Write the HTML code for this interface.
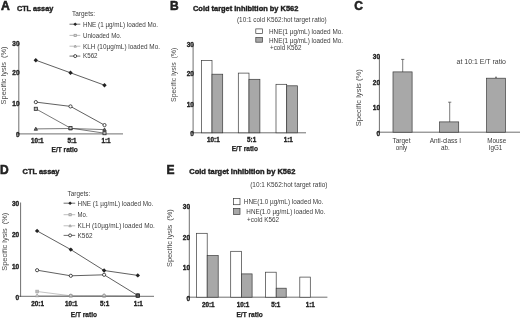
<!DOCTYPE html>
<html><head><meta charset="utf-8"><title>Figure</title>
<style>
html,body{margin:0;padding:0;background:#fff;}
body{width:520px;height:319px;overflow:hidden;}
svg{display:block;font-family:"Liberation Sans",sans-serif;filter:blur(0.3px);}
</style></head><body>
<svg width="520" height="319" viewBox="0 0 520 319">
<rect x="0" y="0" width="520" height="319" fill="#fff"/>
<g>
<text x="0.9" y="10.3" font-size="12.2" font-weight="bold" stroke="#222" stroke-width="0.55" fill="#222" >A</text>
<text x="16.9" y="10.9" font-size="7.5" font-weight="bold" stroke="#222" stroke-width="0.4" textLength="36.4" lengthAdjust="spacingAndGlyphs" fill="#222" >CTL assay</text>
<text x="72" y="16.3" font-size="6.3" textLength="23" lengthAdjust="spacingAndGlyphs" fill="#3c3c3c" >Targets:</text>
<line x1="69.5" y1="24.2" x2="80.3" y2="24.2" stroke="#222" stroke-width="0.65"/>
<polygon points="73.4,24.2 75.2,22.4 77.0,24.2 75.2,26.0" fill="#222"/>
<text x="83" y="26.5" font-size="6.3" textLength="75" lengthAdjust="spacingAndGlyphs" fill="#3c3c3c" >HNE (1 µg/mL) loaded Mo.</text>
<line x1="69.5" y1="35.4" x2="80.3" y2="35.4" stroke="#9a9a9a" stroke-width="0.65"/>
<rect x="74.10000000000001" y="34.3" width="2.2" height="2.2" fill="#ddd" stroke="#9a9a9a" stroke-width="0.8"/>
<text x="83" y="37.699999999999996" font-size="6.3" textLength="38.5" lengthAdjust="spacingAndGlyphs" fill="#3c3c3c" >Unloaded Mo.</text>
<line x1="69.5" y1="46.2" x2="80.3" y2="46.2" stroke="#9a9a9a" stroke-width="0.65"/>
<polygon points="74.0,47.160000000000004 76.4,47.160000000000004 75.2,45.0" fill="#ddd" stroke="#9a9a9a" stroke-width="0.8"/>
<text x="83" y="48.5" font-size="6.3" textLength="77" lengthAdjust="spacingAndGlyphs" fill="#3c3c3c" >KLH (10µg/mL) loaded Mo.</text>
<line x1="69.5" y1="56.1" x2="80.3" y2="56.1" stroke="#222" stroke-width="0.65"/>
<circle cx="75.2" cy="56.1" r="1.5" fill="#fff" stroke="#222" stroke-width="0.8"/>
<text x="83" y="58.4" font-size="6.3" textLength="14.6" lengthAdjust="spacingAndGlyphs" fill="#3c3c3c" >K562</text>
<line x1="18.8" y1="43" x2="18.8" y2="134.3" stroke="#222" stroke-width="0.65"/>
<line x1="17.3" y1="133.9" x2="123" y2="133.9" stroke="#222" stroke-width="0.65"/>
<text x="19.6" y="46.0" font-size="6.5" font-weight="bold" stroke="#222" stroke-width="0.35" text-anchor="end" fill="#222" >30</text>
<text x="19.6" y="75.3" font-size="6.5" font-weight="bold" stroke="#222" stroke-width="0.35" text-anchor="end" fill="#222" >20</text>
<text x="19.6" y="106.1" font-size="6.5" font-weight="bold" stroke="#222" stroke-width="0.35" text-anchor="end" fill="#222" >10</text>
<text x="19.6" y="136.70000000000002" font-size="6.5" font-weight="bold" stroke="#222" stroke-width="0.35" text-anchor="end" fill="#222" >0</text>
<text x="6.0" y="75.4" font-size="6.5" text-anchor="middle" textLength="58" lengthAdjust="spacingAndGlyphs" transform="rotate(-90 6.0 75.4)" fill="#4a4a4a" xml:space="preserve">Specific lysis  (%)</text>
<text x="37.3" y="142.9" font-size="6.3" font-weight="bold" stroke="#222" stroke-width="0.35" text-anchor="middle" fill="#222" >10:1</text>
<text x="72.0" y="142.9" font-size="6.3" font-weight="bold" stroke="#222" stroke-width="0.35" text-anchor="middle" fill="#222" >5:1</text>
<text x="106.0" y="142.9" font-size="6.3" font-weight="bold" stroke="#222" stroke-width="0.35" text-anchor="middle" fill="#222" >1:1</text>
<text x="64.7" y="151.9" font-size="6.6" font-weight="bold" stroke="#222" stroke-width="0.25" text-anchor="middle" textLength="26.3" lengthAdjust="spacingAndGlyphs" fill="#222" >E/T ratio</text>
<polyline points="35.8,60.2 70.5,72.8 104.5,85.2" fill="none" stroke="#222" stroke-width="0.72"/>
<polygon points="33.599999999999994,60.2 35.8,58.0 38.0,60.2 35.8,62.400000000000006" fill="#222"/>
<polygon points="68.3,72.8 70.5,70.6 72.7,72.8 70.5,75.0" fill="#222"/>
<polygon points="102.3,85.2 104.5,83.0 106.7,85.2 104.5,87.4" fill="#222"/>
<polyline points="35.8,128.9 70.5,128.5 104.5,129.6" fill="none" stroke="#444" stroke-width="0.72"/>
<polyline points="35.8,108.8 70.5,128.1 104.5,133.2" fill="none" stroke="#444" stroke-width="0.72"/>
<polyline points="35.8,102.1 70.5,106.4 104.5,125.1" fill="none" stroke="#222" stroke-width="0.72"/>
<polygon points="34.099999999999994,130.26000000000002 37.5,130.26000000000002 35.8,127.2" fill="#666" stroke="#333" stroke-width="0.8"/>
<polygon points="68.8,129.86 72.2,129.86 70.5,126.8" fill="#666" stroke="#333" stroke-width="0.8"/>
<polygon points="102.8,130.96 106.2,130.96 104.5,127.89999999999999" fill="#666" stroke="#333" stroke-width="0.8"/>
<rect x="34.25" y="107.25" width="3.1" height="3.1" fill="#bbb" stroke="#2a2a2a" stroke-width="0.8"/>
<rect x="68.95" y="126.55" width="3.1" height="3.1" fill="#bbb" stroke="#2a2a2a" stroke-width="0.8"/>
<rect x="102.95" y="131.64999999999998" width="3.1" height="3.1" fill="#bbb" stroke="#2a2a2a" stroke-width="0.8"/>
<circle cx="35.8" cy="102.1" r="1.6" fill="#fff" stroke="#222" stroke-width="0.8"/>
<circle cx="70.5" cy="106.4" r="1.6" fill="#fff" stroke="#222" stroke-width="0.8"/>
<circle cx="104.5" cy="125.1" r="1.6" fill="#fff" stroke="#222" stroke-width="0.8"/>
<text x="170.0" y="10.3" font-size="12" font-weight="bold" stroke="#222" stroke-width="0.55" fill="#222" >B</text>
<text x="193" y="10.7" font-size="7.6" font-weight="bold" stroke="#222" stroke-width="0.4" textLength="105.3" lengthAdjust="spacingAndGlyphs" fill="#222" >Cold target inhibition by K562</text>
<text x="237" y="22.2" font-size="6.3" textLength="89.6" lengthAdjust="spacingAndGlyphs" fill="#3c3c3c" >(10:1 cold K562:hot target ratio)</text>
<rect x="255.8" y="28.9" width="6.599999999999966" height="4.5" fill="#fff" stroke="#3a3a3a" stroke-width="0.7"/>
<text x="269" y="33.7" font-size="6.3" textLength="74" lengthAdjust="spacingAndGlyphs" fill="#3c3c3c" >HNE(1 µg/mL) loaded Mo.</text>
<rect x="255.8" y="37.6" width="6.599999999999966" height="4.600000000000001" fill="#a8a8a8" stroke="#3a3a3a" stroke-width="0.7"/>
<text x="269" y="42.5" font-size="6.3" textLength="74" lengthAdjust="spacingAndGlyphs" fill="#3c3c3c" >HNE(1 µg/mL) loaded Mo.</text>
<text x="270" y="49.5" font-size="6.3" textLength="31.5" lengthAdjust="spacingAndGlyphs" fill="#3c3c3c" >+cold K562</text>
<line x1="193.1" y1="44" x2="193.1" y2="133.20000000000002" stroke="#222" stroke-width="0.65"/>
<line x1="191.6" y1="132.8" x2="306" y2="132.8" stroke="#222" stroke-width="0.65"/>
<text x="193.9" y="47.0" font-size="6.5" font-weight="bold" stroke="#222" stroke-width="0.35" text-anchor="end" fill="#222" >30</text>
<text x="193.9" y="75.5" font-size="6.5" font-weight="bold" stroke="#222" stroke-width="0.35" text-anchor="end" fill="#222" >20</text>
<text x="193.9" y="106.8" font-size="6.5" font-weight="bold" stroke="#222" stroke-width="0.35" text-anchor="end" fill="#222" >10</text>
<text x="193.9" y="135.8" font-size="6.5" font-weight="bold" stroke="#222" stroke-width="0.35" text-anchor="end" fill="#222" >0</text>
<text x="175.6" y="74.8" font-size="6.5" text-anchor="middle" textLength="54.3" lengthAdjust="spacingAndGlyphs" transform="rotate(-90 175.6 74.8)" fill="#4a4a4a" xml:space="preserve">Specific lysis  (%)</text>
<rect x="201.4" y="60.6" width="10.599999999999994" height="72.20000000000002" fill="#fff" stroke="#3a3a3a" stroke-width="0.7"/>
<rect x="212.0" y="74.2" width="10.699999999999989" height="58.60000000000001" fill="#a8a8a8" stroke="#3a3a3a" stroke-width="0.7"/>
<rect x="238.3" y="73.1" width="10.699999999999989" height="59.70000000000002" fill="#fff" stroke="#3a3a3a" stroke-width="0.7"/>
<rect x="249.0" y="79.3" width="10.899999999999977" height="53.500000000000014" fill="#a8a8a8" stroke="#3a3a3a" stroke-width="0.7"/>
<rect x="276.0" y="84.3" width="10.699999999999989" height="48.500000000000014" fill="#fff" stroke="#3a3a3a" stroke-width="0.7"/>
<rect x="286.7" y="85.8" width="10.800000000000011" height="47.000000000000014" fill="#a8a8a8" stroke="#3a3a3a" stroke-width="0.7"/>
<text x="213.4" y="141.8" font-size="6.3" font-weight="bold" stroke="#222" stroke-width="0.35" text-anchor="middle" fill="#222" >10:1</text>
<text x="251.6" y="141.8" font-size="6.3" font-weight="bold" stroke="#222" stroke-width="0.35" text-anchor="middle" fill="#222" >5:1</text>
<text x="288.3" y="141.8" font-size="6.3" font-weight="bold" stroke="#222" stroke-width="0.35" text-anchor="middle" fill="#222" >1:1</text>
<text x="244.8" y="150.6" font-size="6.6" font-weight="bold" stroke="#222" stroke-width="0.25" text-anchor="middle" textLength="26.3" lengthAdjust="spacingAndGlyphs" fill="#222" >E/T ratio</text>
<text x="354.3" y="9.8" font-size="12" font-weight="bold" stroke="#222" stroke-width="0.55" fill="#222" >C</text>
<line x1="379.4" y1="56.3" x2="379.4" y2="132.6" stroke="#222" stroke-width="0.65"/>
<line x1="377.9" y1="132.2" x2="520" y2="132.2" stroke="#222" stroke-width="0.65"/>
<text x="380.0" y="59.3" font-size="6.5" font-weight="bold" stroke="#222" stroke-width="0.35" text-anchor="end" fill="#222" >30</text>
<text x="380.0" y="85.0" font-size="6.5" font-weight="bold" stroke="#222" stroke-width="0.35" text-anchor="end" fill="#222" >20</text>
<text x="380.0" y="109.8" font-size="6.5" font-weight="bold" stroke="#222" stroke-width="0.35" text-anchor="end" fill="#222" >10</text>
<text x="380.0" y="135.5" font-size="6.5" font-weight="bold" stroke="#222" stroke-width="0.35" text-anchor="end" fill="#222" >0</text>
<text x="360.7" y="97.8" font-size="6.5" text-anchor="middle" textLength="57" lengthAdjust="spacingAndGlyphs" transform="rotate(-90 360.7 97.8)" fill="#4a4a4a" xml:space="preserve">Specific lysis (%)</text>
<text x="456.5" y="64.4" font-size="6.9" textLength="49.5" lengthAdjust="spacingAndGlyphs" fill="#3c3c3c" >at 10:1 E/T ratio</text>
<line x1="402.7" y1="59.4" x2="402.7" y2="72" stroke="#444" stroke-width="0.7"/>
<line x1="401.09999999999997" y1="59.4" x2="404.3" y2="59.4" stroke="#444" stroke-width="0.7"/>
<rect x="393.0" y="71.9" width="19.100000000000023" height="60.29999999999998" fill="#a8a8a8" stroke="#3a3a3a" stroke-width="0.7"/>
<line x1="449.7" y1="102.2" x2="449.7" y2="122" stroke="#444" stroke-width="0.7"/>
<line x1="448.09999999999997" y1="102.2" x2="451.3" y2="102.2" stroke="#444" stroke-width="0.7"/>
<rect x="439.6" y="121.9" width="19.099999999999966" height="10.299999999999983" fill="#a8a8a8" stroke="#3a3a3a" stroke-width="0.7"/>
<line x1="496" y1="77.2" x2="496" y2="78.5" stroke="#444" stroke-width="0.7"/>
<line x1="495.0" y1="77.2" x2="497.0" y2="77.2" stroke="#444" stroke-width="0.7"/>
<rect x="486.6" y="78.2" width="18.799999999999955" height="53.999999999999986" fill="#a8a8a8" stroke="#3a3a3a" stroke-width="0.7"/>
<text x="401.5" y="142.9" font-size="6.3" text-anchor="middle" textLength="18.2" lengthAdjust="spacingAndGlyphs" fill="#3c3c3c" >Target</text>
<text x="401.5" y="150.0" font-size="6.3" text-anchor="middle" fill="#3c3c3c" >only</text>
<text x="445.4" y="142.9" font-size="6.3" text-anchor="middle" textLength="31.5" lengthAdjust="spacingAndGlyphs" fill="#3c3c3c" >Anti-class I</text>
<text x="445.4" y="150.0" font-size="6.3" text-anchor="middle" fill="#3c3c3c" >ab.</text>
<text x="496.8" y="142.9" font-size="6.3" text-anchor="middle" textLength="19" lengthAdjust="spacingAndGlyphs" fill="#3c3c3c" >Mouse</text>
<text x="495.5" y="150.0" font-size="6.3" text-anchor="middle" fill="#3c3c3c" >IgG1</text>
<text x="0.0" y="174.3" font-size="12" font-weight="bold" stroke="#222" stroke-width="0.55" fill="#222" >D</text>
<text x="22.6" y="173.6" font-size="7.5" font-weight="bold" stroke="#222" stroke-width="0.4" textLength="36.9" lengthAdjust="spacingAndGlyphs" fill="#222" >CTL assay</text>
<text x="67.6" y="196.0" font-size="6.3" textLength="22.6" lengthAdjust="spacingAndGlyphs" fill="#3c3c3c" >Targets:</text>
<line x1="63.6" y1="203.2" x2="75.2" y2="203.2" stroke="#222" stroke-width="0.65"/>
<polygon points="68.3,203.2 70.1,201.39999999999998 71.89999999999999,203.2 70.1,205.0" fill="#222"/>
<text x="77.6" y="205.5" font-size="6.3" textLength="75.8" lengthAdjust="spacingAndGlyphs" fill="#3c3c3c" >HNE (1 µg/mL) loaded Mo.</text>
<line x1="63.6" y1="214.7" x2="75.2" y2="214.7" stroke="#9a9a9a" stroke-width="0.65"/>
<rect x="69.0" y="213.6" width="2.2" height="2.2" fill="#ddd" stroke="#9a9a9a" stroke-width="0.8"/>
<text x="77.6" y="217.0" font-size="6.3" textLength="10" lengthAdjust="spacingAndGlyphs" fill="#3c3c3c" >Mo.</text>
<line x1="63.6" y1="225.8" x2="75.2" y2="225.8" stroke="#9a9a9a" stroke-width="0.65"/>
<polygon points="68.89999999999999,226.76000000000002 71.3,226.76000000000002 70.1,224.60000000000002" fill="#ddd" stroke="#9a9a9a" stroke-width="0.8"/>
<text x="77.6" y="228.10000000000002" font-size="6.3" textLength="77.3" lengthAdjust="spacingAndGlyphs" fill="#3c3c3c" >KLH (10µg/mL) loaded Mo.</text>
<line x1="63.6" y1="235.4" x2="75.2" y2="235.4" stroke="#222" stroke-width="0.65"/>
<circle cx="70.1" cy="235.4" r="1.5" fill="#fff" stroke="#222" stroke-width="0.8"/>
<text x="77.6" y="237.70000000000002" font-size="6.3" textLength="15.0" lengthAdjust="spacingAndGlyphs" fill="#3c3c3c" >K562</text>
<text x="19.200000000000003" y="206.3" font-size="6.5" font-weight="bold" stroke="#222" stroke-width="0.35" text-anchor="end" fill="#222" >30</text>
<text x="19.200000000000003" y="237.0" font-size="6.5" font-weight="bold" stroke="#222" stroke-width="0.35" text-anchor="end" fill="#222" >20</text>
<text x="19.200000000000003" y="268.7" font-size="6.5" font-weight="bold" stroke="#222" stroke-width="0.35" text-anchor="end" fill="#222" >10</text>
<text x="19.200000000000003" y="299.5" font-size="6.5" font-weight="bold" stroke="#222" stroke-width="0.35" text-anchor="end" fill="#222" >0</text>
<text x="6.8" y="241.7" font-size="6.5" text-anchor="middle" textLength="58" lengthAdjust="spacingAndGlyphs" transform="rotate(-90 6.8 241.7)" fill="#4a4a4a" xml:space="preserve">Specific lysis  (%)</text>
<text x="37.6" y="305.8" font-size="6.3" font-weight="bold" stroke="#222" stroke-width="0.35" text-anchor="middle" fill="#222" >20:1</text>
<text x="71.3" y="305.8" font-size="6.3" font-weight="bold" stroke="#222" stroke-width="0.35" text-anchor="middle" fill="#222" >10:1</text>
<text x="104.6" y="305.8" font-size="6.3" font-weight="bold" stroke="#222" stroke-width="0.35" text-anchor="middle" fill="#222" >5:1</text>
<text x="138.3" y="305.8" font-size="6.3" font-weight="bold" stroke="#222" stroke-width="0.35" text-anchor="middle" fill="#222" >1:1</text>
<text x="83.9" y="316.5" font-size="6.6" font-weight="bold" stroke="#222" stroke-width="0.25" text-anchor="middle" textLength="26.3" lengthAdjust="spacingAndGlyphs" fill="#222" >E/T ratio</text>
<polyline points="37.1,291.5 70.8,295.8 104.1,296.0 137.8,296.0" fill="none" stroke="#aaa" stroke-width="0.72"/>
<polyline points="37.1,295.8 70.8,295.8 104.1,295.6 137.8,296.0" fill="none" stroke="#aaa" stroke-width="0.72"/>
<rect x="35.800000000000004" y="290.2" width="2.6" height="2.6" fill="#bbb" stroke="#aaa" stroke-width="0.8"/>
<rect x="69.5" y="294.5" width="2.6" height="2.6" fill="#bbb" stroke="#aaa" stroke-width="0.8"/>
<rect x="102.8" y="294.7" width="2.6" height="2.6" fill="#bbb" stroke="#aaa" stroke-width="0.8"/>
<line x1="20.6" y1="202.5" x2="20.6" y2="296.7" stroke="#222" stroke-width="0.65"/>
<line x1="19.1" y1="296.3" x2="154" y2="296.3" stroke="#222" stroke-width="0.65"/>
<polyline points="37.1,230.9 70.8,249.6 104.1,270.5 137.8,275.4" fill="none" stroke="#222" stroke-width="0.72"/>
<polyline points="37.1,270.2 70.8,275.8 104.1,274.8 137.8,295.5" fill="none" stroke="#222" stroke-width="0.72"/>
<polygon points="34.9,230.9 37.1,228.70000000000002 39.300000000000004,230.9 37.1,233.1" fill="#222"/>
<polygon points="68.6,249.6 70.8,247.4 73.0,249.6 70.8,251.79999999999998" fill="#222"/>
<polygon points="101.89999999999999,270.5 104.1,268.3 106.3,270.5 104.1,272.7" fill="#222"/>
<polygon points="135.60000000000002,275.4 137.8,273.2 140.0,275.4 137.8,277.59999999999997" fill="#222"/>
<circle cx="37.1" cy="270.2" r="1.6" fill="#fff" stroke="#222" stroke-width="0.8"/>
<circle cx="70.8" cy="275.8" r="1.6" fill="#fff" stroke="#222" stroke-width="0.8"/>
<circle cx="104.1" cy="274.8" r="1.6" fill="#fff" stroke="#222" stroke-width="0.8"/>
<circle cx="137.8" cy="295.5" r="1.6" fill="#fff" stroke="#222" stroke-width="0.8"/>
<polygon points="35.4,296.76000000000005 38.800000000000004,296.76000000000005 37.1,293.70000000000005" fill="#ddd" stroke="#888" stroke-width="0.6"/>
<polygon points="69.1,296.76000000000005 72.5,296.76000000000005 70.8,293.70000000000005" fill="#ddd" stroke="#888" stroke-width="0.6"/>
<polygon points="102.39999999999999,296.56000000000006 105.8,296.56000000000006 104.1,293.50000000000006" fill="#ddd" stroke="#888" stroke-width="0.6"/>
<rect x="136.10000000000002" y="293.90000000000003" width="3.4" height="3.4" fill="#555" stroke="#222" stroke-width="0.8"/>
<text x="166.4" y="174.3" font-size="12" font-weight="bold" stroke="#222" stroke-width="0.55" fill="#222" >E</text>
<text x="189.3" y="173.8" font-size="7.6" font-weight="bold" stroke="#222" stroke-width="0.4" textLength="106" lengthAdjust="spacingAndGlyphs" fill="#222" >Cold target inhibition by K562</text>
<text x="250.2" y="187.2" font-size="6.3" textLength="77.2" lengthAdjust="spacingAndGlyphs" fill="#3c3c3c" >(10:1 K562:hot target ratio)</text>
<rect x="233.6" y="198.4" width="6.400000000000006" height="6.299999999999983" fill="#fff" stroke="#3a3a3a" stroke-width="0.7"/>
<text x="243.8" y="203.7" font-size="6.3" textLength="79.6" lengthAdjust="spacingAndGlyphs" fill="#3c3c3c" >HNE(1.0 µg/mL) loaded Mo.</text>
<rect x="233.6" y="208.4" width="6.400000000000006" height="6.099999999999994" fill="#a8a8a8" stroke="#3a3a3a" stroke-width="0.7"/>
<text x="246.3" y="213.7" font-size="6.3" textLength="79.1" lengthAdjust="spacingAndGlyphs" fill="#3c3c3c" >HNE(1.0 µg/mL) loaded Mo.</text>
<text x="247.1" y="221.8" font-size="6.3" textLength="31.9" lengthAdjust="spacingAndGlyphs" fill="#3c3c3c" >+cold K562</text>
<line x1="189.3" y1="206.2" x2="189.3" y2="297.59999999999997" stroke="#222" stroke-width="0.65"/>
<line x1="187.8" y1="297.2" x2="327.4" y2="297.2" stroke="#222" stroke-width="0.65"/>
<text x="190.10000000000002" y="209.3" font-size="6.5" font-weight="bold" stroke="#222" stroke-width="0.35" text-anchor="end" fill="#222" >30</text>
<text x="190.10000000000002" y="239.70000000000002" font-size="6.5" font-weight="bold" stroke="#222" stroke-width="0.35" text-anchor="end" fill="#222" >20</text>
<text x="190.10000000000002" y="270.0" font-size="6.5" font-weight="bold" stroke="#222" stroke-width="0.35" text-anchor="end" fill="#222" >10</text>
<text x="190.10000000000002" y="300.5" font-size="6.5" font-weight="bold" stroke="#222" stroke-width="0.35" text-anchor="end" fill="#222" >0</text>
<text x="172.4" y="238.1" font-size="6.5" text-anchor="middle" textLength="57.8" lengthAdjust="spacingAndGlyphs" transform="rotate(-90 172.4 238.1)" fill="#4a4a4a" xml:space="preserve">Specific lysis  (%)</text>
<rect x="196.4" y="233.3" width="10.799999999999983" height="63.89999999999998" fill="#fff" stroke="#3a3a3a" stroke-width="0.7"/>
<rect x="207.2" y="255.6" width="11.0" height="41.599999999999994" fill="#a8a8a8" stroke="#3a3a3a" stroke-width="0.7"/>
<rect x="230.7" y="251.3" width="10.800000000000011" height="45.89999999999998" fill="#fff" stroke="#3a3a3a" stroke-width="0.7"/>
<rect x="241.5" y="273.9" width="10.599999999999994" height="23.30000000000001" fill="#a8a8a8" stroke="#3a3a3a" stroke-width="0.7"/>
<rect x="265.4" y="272.2" width="10.800000000000011" height="25.0" fill="#fff" stroke="#3a3a3a" stroke-width="0.7"/>
<rect x="276.2" y="288.2" width="10.0" height="9.0" fill="#a8a8a8" stroke="#3a3a3a" stroke-width="0.7"/>
<rect x="299.8" y="277.1" width="10.5" height="20.099999999999966" fill="#fff" stroke="#3a3a3a" stroke-width="0.7"/>
<text x="208.3" y="307.0" font-size="6.3" font-weight="bold" stroke="#222" stroke-width="0.35" text-anchor="middle" fill="#222" >20:1</text>
<text x="243.0" y="307.0" font-size="6.3" font-weight="bold" stroke="#222" stroke-width="0.35" text-anchor="middle" fill="#222" >10:1</text>
<text x="275.7" y="307.0" font-size="6.3" font-weight="bold" stroke="#222" stroke-width="0.35" text-anchor="middle" fill="#222" >5:1</text>
<text x="310.3" y="307.0" font-size="6.3" font-weight="bold" stroke="#222" stroke-width="0.35" text-anchor="middle" fill="#222" >1:1</text>
<text x="249.6" y="316.6" font-size="6.6" font-weight="bold" stroke="#222" stroke-width="0.25" text-anchor="middle" textLength="26.3" lengthAdjust="spacingAndGlyphs" fill="#222" >E/T ratio</text>
</g>
</svg>
</body></html>
